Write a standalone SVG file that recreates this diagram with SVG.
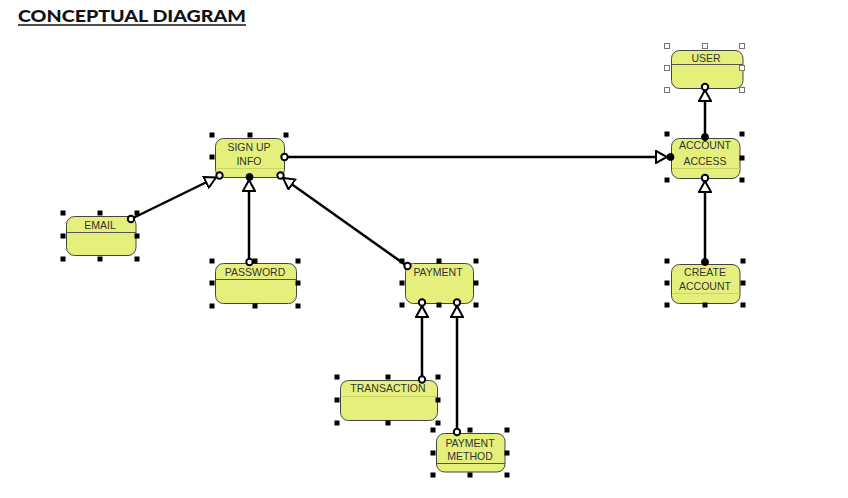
<svg xmlns="http://www.w3.org/2000/svg" width="848" height="498" viewBox="0 0 848 498">
<style>
.box{fill:#e5f07c;stroke:#444;stroke-width:1}
.div{stroke:#555;stroke-width:1}
.fdiv{stroke:#c9d465;stroke-width:1}
.lbl{font-family:"Liberation Sans",Arial,sans-serif;font-size:10.5px;fill:#333;text-anchor:middle}
.h{fill:#000}
.ho{fill:#fff;stroke:#777;stroke-width:1}
.ln{stroke:#000;stroke-width:2.5;fill:none}
.co{fill:#fff;stroke:#000;stroke-width:2}
.cf{fill:#000;stroke:#000;stroke-width:1}
</style>
<defs>
<marker id="tri" markerUnits="userSpaceOnUse" markerWidth="14" markerHeight="14" refX="11" refY="6" orient="auto" viewBox="-1 -1 14 14">
<path d="M0,0 L11,6 L0,12 Z" fill="#fff" stroke="#000" stroke-width="2" stroke-linejoin="miter"/>
</marker>
<rect id="hs" x="-2.5" y="-2.5" width="5" height="5"/>
</defs>
<rect width="848" height="498" fill="#fff"/>
<g id="title">
<text x="18" y="22" font-family="Lato,'Open Sans',sans-serif" font-weight="900" font-size="16" fill="#111" textLength="228" lengthAdjust="spacingAndGlyphs">CONCEPTUAL DIAGRAM</text>
<line x1="18" y1="25" x2="246" y2="25" stroke="#111" stroke-width="1.5"/>
</g>
<g id="n-signup">
<rect class="box" x="215.5" y="138.5" width="69" height="39" rx="8"/>
<line class="fdiv" x1="216" y1="168.5" x2="284" y2="168.5"/>
<text class="lbl" x="249" y="150.5">SIGN UP</text>
<text class="lbl" x="249" y="164.5">INFO</text>
<g class="h"><use href="#hs" x="212" y="135"/><use href="#hs" x="250" y="135"/><use href="#hs" x="286" y="135"/><use href="#hs" x="212" y="157"/></g>
</g>
<g id="n-email">
<rect class="box" x="66.5" y="216.5" width="69.5" height="39" rx="8"/>
<line class="div" x1="67" y1="232.5" x2="136" y2="232.5"/>
<text class="lbl" x="100" y="228.7">EMAIL</text>
<g class="h"><use href="#hs" x="63" y="213"/><use href="#hs" x="100" y="213"/><use href="#hs" x="137" y="213"/><use href="#hs" x="63" y="236"/><use href="#hs" x="137" y="236"/><use href="#hs" x="63" y="259"/><use href="#hs" x="100" y="259"/><use href="#hs" x="137" y="259"/></g>
</g>
<g id="n-password">
<rect class="box" x="215.5" y="263.5" width="81" height="40" rx="8"/>
<line class="div" x1="216" y1="279.5" x2="296" y2="279.5"/>
<text class="lbl" x="255" y="275.5">PASSWORD</text>
<g class="h"><use href="#hs" x="212" y="261"/><use href="#hs" x="255" y="261"/><use href="#hs" x="298" y="261"/><use href="#hs" x="212" y="283"/><use href="#hs" x="298" y="283"/><use href="#hs" x="212" y="306"/><use href="#hs" x="255" y="306"/><use href="#hs" x="298" y="306"/></g>
</g>
<g id="n-payment">
<rect class="box" x="405.5" y="263.5" width="68" height="40" rx="8"/>
<text class="lbl" x="438" y="275.5">PAYMENT</text>
<g class="h"><use href="#hs" x="402" y="261"/><use href="#hs" x="439" y="261"/><use href="#hs" x="476" y="261"/><use href="#hs" x="402" y="283"/><use href="#hs" x="476" y="283"/><use href="#hs" x="402" y="305"/><use href="#hs" x="439" y="305"/><use href="#hs" x="476" y="305"/></g>
</g>
<g id="n-transaction">
<rect class="box" x="340.5" y="380.5" width="97" height="40" rx="8"/>
<line class="fdiv" x1="341" y1="396.5" x2="437" y2="396.5"/>
<text class="lbl" x="388" y="392">TRANSACTION</text>
<g class="h"><use href="#hs" x="337" y="377"/><use href="#hs" x="388" y="377"/><use href="#hs" x="438" y="377"/><use href="#hs" x="337" y="400"/><use href="#hs" x="438" y="400"/><use href="#hs" x="337" y="423"/><use href="#hs" x="388" y="423"/><use href="#hs" x="438" y="423"/></g>
</g>
<g id="n-paymethod">
<rect class="box" x="436.5" y="433.5" width="68.5" height="38.5" rx="8"/>
<line class="div" x1="437" y1="463.5" x2="505" y2="463.5"/>
<text class="lbl" x="470" y="446.5">PAYMENT</text>
<text class="lbl" x="470" y="459.5">METHOD</text>
<g class="h"><use href="#hs" x="433" y="430"/><use href="#hs" x="470" y="430"/><use href="#hs" x="507" y="430"/><use href="#hs" x="433" y="453"/><use href="#hs" x="507" y="453"/><use href="#hs" x="433" y="475"/><use href="#hs" x="470" y="475"/><use href="#hs" x="507" y="475"/></g>
</g>
<g id="n-user">
<rect class="box" x="671.5" y="50.5" width="71.5" height="38" rx="8"/>
<line class="div" x1="672" y1="64.5" x2="743" y2="64.5"/>
<text class="lbl" x="706" y="61.5">USER</text>
<g class="ho"><use href="#hs" x="667" y="46"/><use href="#hs" x="705" y="46"/><use href="#hs" x="742" y="46"/><use href="#hs" x="667" y="68"/><use href="#hs" x="742" y="68"/><use href="#hs" x="667" y="90"/><use href="#hs" x="742" y="90"/></g>
</g>
<g id="n-access">
<rect class="box" x="671.5" y="138.5" width="68.5" height="40" rx="8"/>
<line class="fdiv" x1="672" y1="168.5" x2="740" y2="168.5"/>
<text class="lbl" x="705" y="149">ACCOUNT</text>
<text class="lbl" x="705" y="164.5">ACCESS</text>
<g class="h"><use href="#hs" x="667" y="134"/><use href="#hs" x="742" y="134"/><use href="#hs" x="742" y="158"/><use href="#hs" x="667" y="180"/><use href="#hs" x="742" y="180"/></g>
</g>
<g id="n-create">
<rect class="box" x="671.5" y="264.5" width="68.5" height="39" rx="8"/>
<line class="fdiv" x1="672" y1="293.5" x2="740" y2="293.5"/>
<text class="lbl" x="705" y="275.5">CREATE</text>
<text class="lbl" x="705" y="289.5">ACCOUNT</text>
<g class="h"><use href="#hs" x="667" y="261"/><use href="#hs" x="743" y="261"/><use href="#hs" x="667" y="283"/><use href="#hs" x="743" y="283"/><use href="#hs" x="667" y="305"/><use href="#hs" x="705" y="305"/><use href="#hs" x="743" y="305"/></g>
</g>
<g id="connectors">
<line class="ln" x1="131" y1="219" x2="216" y2="177.5" marker-end="url(#tri)"/>
<line class="ln" x1="249" y1="262" x2="249" y2="180" marker-end="url(#tri)"/>
<line class="ln" x1="407" y1="266" x2="283" y2="178" marker-end="url(#tri)"/>
<line class="ln" x1="288" y1="157" x2="667" y2="157" marker-end="url(#tri)"/>
<line class="ln" x1="705" y1="137" x2="705" y2="90" marker-end="url(#tri)"/>
<line class="ln" x1="705" y1="262" x2="705" y2="181" marker-end="url(#tri)"/>
<line class="ln" x1="422" y1="379" x2="422" y2="306" marker-end="url(#tri)"/>
<line class="ln" x1="457" y1="431" x2="457" y2="306" marker-end="url(#tri)"/>
<circle class="co" cx="131" cy="219" r="3.2"/>
<circle class="co" cx="219.5" cy="175.5" r="3.2"/>
<circle class="co" cx="249.5" cy="262" r="3.2"/>
<circle class="cf" cx="249.5" cy="177" r="3.5"/>
<circle class="co" cx="407.5" cy="266" r="3.2"/>
<circle class="co" cx="280.5" cy="175.5" r="3.2"/>
<circle class="co" cx="284.5" cy="157" r="3.2"/>
<circle class="cf" cx="670.5" cy="157" r="3.5"/>
<circle class="cf" cx="705" cy="137" r="3.5"/>
<circle class="co" cx="705" cy="87" r="3.2"/>
<circle class="cf" cx="705" cy="262" r="3.5"/>
<circle class="co" cx="705" cy="178" r="3.2"/>
<circle class="co" cx="422" cy="379.5" r="3.2"/>
<circle class="co" cx="422" cy="302.5" r="3.2"/>
<circle class="co" cx="457" cy="432" r="3.2"/>
<circle class="co" cx="457" cy="302.5" r="3.2"/>
</g>
</svg>
